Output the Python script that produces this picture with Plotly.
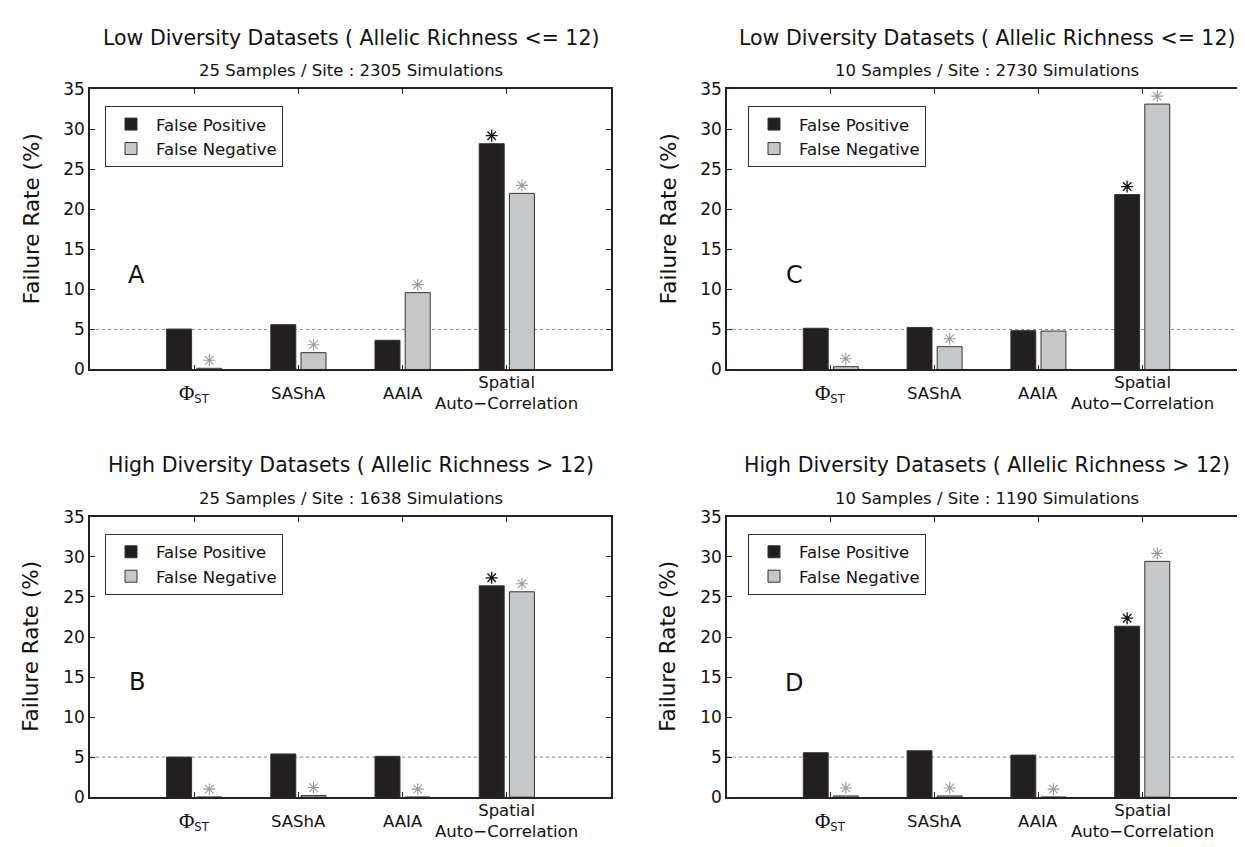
import plotly.graph_objects as go

# ---------------- data ----------------
categories = ["<span style='font-family:Liberation Serif;font-size:21px'>Φ</span><sub>ST</sub>",
              "SAShA", "AAIA", "Spatial<br>Auto−Correlation"]
cat_pos = [1, 2, 3, 4]
series_names = ["False Positive", "False Negative"]

panel_ids = ["A", "C", "B", "D"]
titles = [
    "Low Diversity Datasets ( Allelic Richness <= 12)",
    "Low Diversity Datasets ( Allelic Richness <= 12)",
    "High Diversity Datasets ( Allelic Richness > 12)",
    "High Diversity Datasets ( Allelic Richness > 12)",
]
subtitles = [
    "25 Samples / Site : 2305 Simulations",
    "10 Samples / Site : 2730 Simulations",
    "25 Samples / Site : 1638 Simulations",
    "10 Samples / Site : 1190 Simulations",
]

false_pos_A = [5.05, 5.6, 3.65, 28.2]
false_neg_A = [0.15, 2.1, 9.6, 22.0]
false_pos_C = [5.15, 5.25, 4.85, 21.85]
false_neg_C = [0.35, 2.85, 4.8, 33.15]
false_pos_B = [5.0, 5.4, 5.1, 26.4]
false_neg_B = [0.0, 0.2, 0.0, 25.65]
false_pos_D = [5.55, 5.8, 5.25, 21.35]
false_neg_D = [0.15, 0.15, 0.0, 29.45]

sig_pos_A = [False, False, False, True]
sig_neg_A = [True, True, True, True]
sig_pos_C = [False, False, False, True]
sig_neg_C = [True, True, False, True]
sig_pos_B = [False, False, False, True]
sig_neg_B = [True, True, True, True]
sig_pos_D = [False, False, False, True]
sig_neg_D = [True, True, True, True]

letter_x = [0.45, 0.65, 0.45, 0.65]
letter_y = [11.8, 11.8, 14.4, 14.2]

threshold = 5
y_ticks = [0, 5, 10, 15, 20, 25, 30, 35]

# ---------------- style ----------------
W, H = 1245, 847
FONT = "DejaVu Sans"
FP_COLOR = "#231f20"
FN_COLOR = "#c6c7c9"
EDGE = "#333333"
STAR_FP = "#111111"
STAR_FN = "#9a9a9a"
BAR_W = 0.24
HALF_GAP = 0.025
STAR_LIFT = 1.0

# panel pixel boxes: (left, right, top, bottom)
boxes = [(82, 603, 73, 360), (719, 1238, 73, 360),
         (82, 603, 511, 798), (719, 1238, 511, 798)]
legend_pos = [(97, 90), (740, 90), (97, 528), (740, 528)]

pos_data = [false_pos_A, false_pos_C, false_pos_B, false_pos_D]
neg_data = [false_neg_A, false_neg_C, false_neg_B, false_neg_D]
sig_pos = [sig_pos_A, sig_pos_C, sig_pos_B, sig_pos_D]
sig_neg = [sig_neg_A, sig_neg_C, sig_neg_B, sig_neg_D]

fig = go.Figure()
annotations = []
shapes = []
layout_axes = {}

for i in range(4):
    sfx = "" if i == 0 else str(i + 1)
    xa, ya = "x" + sfx, "y" + sfx
    leg = "legend" + sfx
    l, r, t, b = boxes[i]
    off = BAR_W / 2 + HALF_GAP

    fig.add_trace(go.Bar(
        x=cat_pos, y=pos_data[i], name=series_names[0],
        width=BAR_W, offset=-(BAR_W + HALF_GAP),
        marker=dict(color=FP_COLOR, line=dict(color=EDGE, width=1)),
        xaxis=xa, yaxis=ya, legend=leg, legendgroup="fp" + sfx,
        hoverinfo="skip"))
    fig.add_trace(go.Bar(
        x=cat_pos, y=neg_data[i], name=series_names[1],
        width=BAR_W, offset=HALF_GAP,
        marker=dict(color=FN_COLOR, line=dict(color=EDGE, width=1)),
        xaxis=xa, yaxis=ya, legend=leg, legendgroup="fn" + sfx,
        hoverinfo="skip"))

    # significance asterisks
    px_, py_ = [], []
    for c, v, s in zip(cat_pos, pos_data[i], sig_pos[i]):
        if s:
            px_.append(c - off)
            py_.append(v + STAR_LIFT)
    nx_, ny_ = [], []
    for c, v, s in zip(cat_pos, neg_data[i], sig_neg[i]):
        if s:
            nx_.append(c + off)
            ny_.append(v + STAR_LIFT)
    fig.add_trace(go.Scatter(
        x=px_, y=py_, mode="markers", showlegend=False,
        marker=dict(symbol="asterisk-open", size=10, color=STAR_FP,
                    line=dict(color=STAR_FP, width=1.3)),
        xaxis=xa, yaxis=ya, hoverinfo="skip"))
    fig.add_trace(go.Scatter(
        x=nx_, y=ny_, mode="markers", showlegend=False,
        marker=dict(symbol="asterisk-open", size=10, color=STAR_FN,
                    line=dict(color=STAR_FN, width=1.1)),
        xaxis=xa, yaxis=ya, hoverinfo="skip"))

    layout_axes["xaxis" + sfx] = dict(
        domain=[l / W, r / W], anchor=ya, range=[0, 5],
        tickvals=cat_pos, showticklabels=False, ticks="inside",
        ticklen=5, tickcolor="#222", showline=True, linecolor="#222",
        linewidth=1.5, mirror="ticks", showgrid=False, zeroline=False,
        fixedrange=True)
    layout_axes["yaxis" + sfx] = dict(
        domain=[1 - b / H, 1 - t / H], anchor=xa, range=[0, 35],
        tickvals=y_ticks, ticks="inside", ticklen=5, tickcolor="#222",
        showline=True, linecolor="#222", linewidth=1.5, mirror="ticks",
        showgrid=False, zeroline=False, fixedrange=True,
        tickfont=dict(family=FONT, size=17, color="#111"))

    layout_axes[leg] = dict(
        x=legend_pos[i][0] / W, y=1 - legend_pos[i][1] / H,
        xanchor="left", yanchor="top", bgcolor="white",
        bordercolor="#333", borderwidth=1,
        font=dict(family=FONT, size=16.5, color="#111"),
        tracegroupgap=8, itemwidth=40, traceorder="normal")

    # threshold line
    shapes.append(dict(type="line", xref=xa + " domain", yref=ya,
                       x0=0, x1=1, y0=threshold, y1=threshold,
                       line=dict(color="#888", width=1, dash="dot"),
                       layer="below"))

    cx = (l + r) / 2 / W
    annotations.append(dict(text=titles[i], xref="paper", yref="paper",
                            x=cx, y=1 - (t - 53) / H, showarrow=False,
                            xanchor="center", yanchor="middle",
                            font=dict(family=FONT, size=20.5, color="#111")))
    annotations.append(dict(text=subtitles[i], xref="paper", yref="paper",
                            x=cx, y=1 - (t - 19) / H, showarrow=False,
                            xanchor="center", yanchor="middle",
                            font=dict(family=FONT, size=16.5, color="#111")))
    annotations.append(dict(text="Failure Rate (%)", xref="paper", yref="paper",
                            x=(l - 59) / W, y=1 - (t + 133) / H, showarrow=False,
                            textangle=-90, xanchor="center", yanchor="middle",
                            font=dict(family=FONT, size=21.5, color="#111")))
    annotations.append(dict(text=panel_ids[i], xref=xa, yref=ya,
                            x=letter_x[i], y=letter_y[i], showarrow=False,
                            xanchor="center", yanchor="middle",
                            font=dict(family=FONT, size=24, color="#111")))
    for c, lab in zip(cat_pos, categories):
        annotations.append(dict(text=lab, xref=xa, yref=ya + " domain",
                                x=c, y=0, yshift=-24, showarrow=False,
                                xanchor="center", yanchor="middle",
                                font=dict(family=FONT, size=16.5, color="#111")))

fig.update_layout(
    width=W, height=H, margin=dict(l=0, r=0, t=0, b=0),
    paper_bgcolor="white", plot_bgcolor="white",
    barmode="overlay", annotations=annotations, shapes=shapes,
    **layout_axes)

fig.write_html("out.html")
